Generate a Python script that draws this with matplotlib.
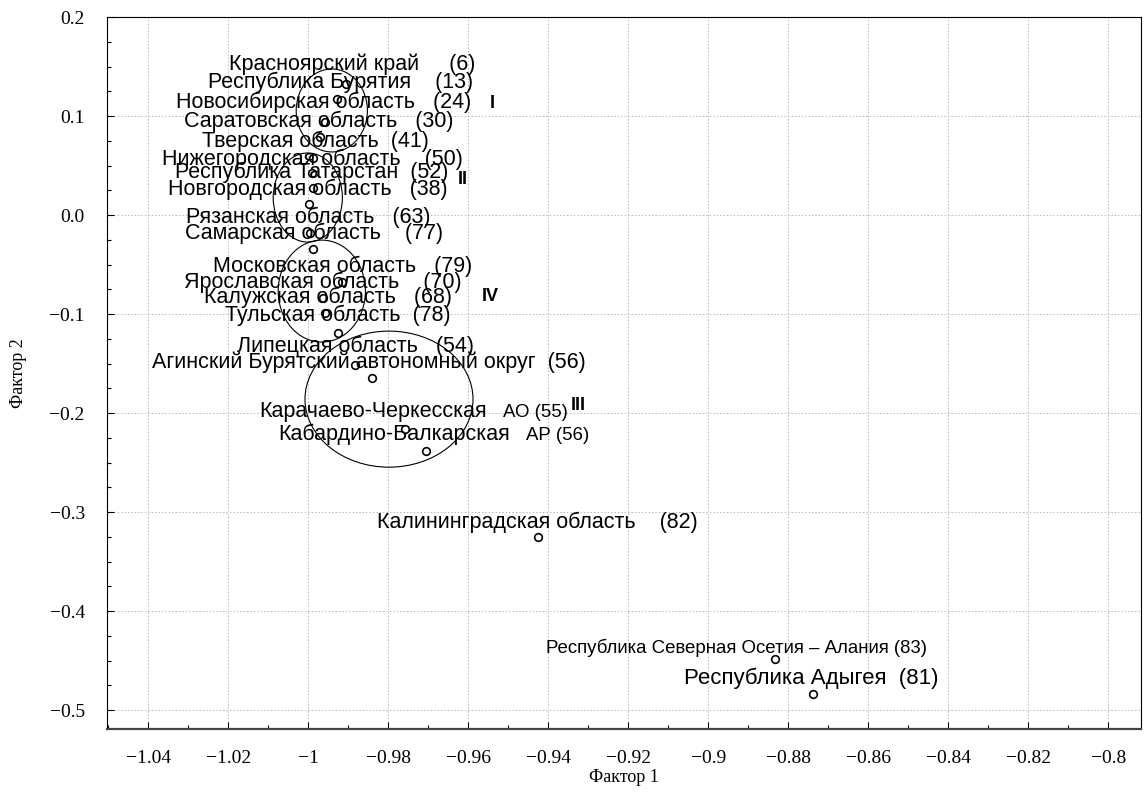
import matplotlib
matplotlib.use('Agg')
import matplotlib.pyplot as plt
from matplotlib.patches import Ellipse
from matplotlib.ticker import FixedLocator, MultipleLocator

# Data: regions on the plane of the first two factors
names = [
    'Красноярский край     (6)',
    'Республика Бурятия    (13)',
    'Новосибирская область   (24)',
    'Саратовская область   (30)',
    'Тверская область  (41)',
    'Нижегородская область    (50)',
    'Республика Татарстан  (52)',
    'Новгородская область   (38)',
    'Рязанская область   (63)',
    'Самарская область    (77)',
    'Московская область   (79)',
    'Ярославская область    (70)',
    'Калужская область   (68)',
    'Тульская область  (78)',
    'Липецкая область   (54)',
    'Агинский Бурятский автономный округ  (56)',
    'Карачаево-Черкесская',
    'Кабардино-Балкарская',
    'Калининградская область    (82)',
    'Республика Северная Осетия – Алания (83)',
    'Республика Адыгея  (81)',
]
factor1 = [-0.9905, -0.9928, -0.9958, -0.9970, -0.9988, -0.9990, -0.9988,
           -0.9998, -0.9995, -0.9988, -0.9915, -0.9963, -0.9958, -0.9925,
           -0.9883, -0.9840, -0.9758, -0.9705, -0.9425, -0.8833, -0.8738]
factor2 = [0.1323, 0.1172, 0.0939, 0.0788, 0.0576, 0.0424, 0.0273,
           0.0111, -0.0182, -0.0343, -0.0677, -0.0838, -0.0990, -0.1192,
           -0.1515, -0.1646, -0.2162, -0.2384, -0.3253, -0.4485, -0.4838]
# second part of two labels, printed smaller
suffix = {16: 'АО (55)', 17: 'АР (56)'}

# Clusters (ellipses) and their roman labels
cluster_names = ['I', 'II', 'IV', 'III']
cluster_x = [-0.9941, -1.0001, -0.9966, -0.9798]
cluster_y = [0.1056, 0.0177, -0.0768, -0.1859]
cluster_w = [0.0178, 0.0173, 0.0218, 0.0420]
cluster_h = [0.0838, 0.0900, 0.1030, 0.1374]
cluster_lx = [-0.9540, -0.9613, -0.9545, -0.9325]
cluster_ly = [0.1131, 0.0364, -0.0818, -0.1919]

xticks = [-1.04, -1.02, -1.0, -0.98, -0.96, -0.94, -0.92, -0.9,
          -0.88, -0.86, -0.84, -0.82, -0.8]
yticks = [0.2, 0.1, 0.0, -0.1, -0.2, -0.3, -0.4, -0.5]

# label placement (pixels relative to the point: text centre x, baseline y)
label_dx = [6, 4, -1, -1, 2, 0, -1, -1, -2, 1, 0, 0, 3, 0, 0, -3, 82, 84, -1, -38, -2]
label_dy = [14, 11, 14, 10, 11, 8, 10, 9, 10, 10, 10, 10, 10, 12, 13, 10, 12, 11, 9, 6, 10]
label_size = [15.5] * 19 + [13.4, 16]

SANS = 'Liberation Sans'
SERIF = 'Liberation Serif'


def fmt_tick(v, nd=None):
    if nd is None:
        s = ('%g' % v)
    else:
        s = ('%.' + str(nd) + 'f') % v
    return s.replace('-', '\u2212')


def main():
    fig = plt.figure(figsize=(11.44, 8.01), dpi=100)
    ax = fig.add_axes([107 / 1144, 72 / 801, 1034 / 1144, 712 / 801])

    # ellipses around clusters
    for cx, cy, w, h in zip(cluster_x, cluster_y, cluster_w, cluster_h):
        ax.add_patch(Ellipse((cx, cy), w, h, fill=False, ec='black', lw=0.8, zorder=3))
    for name, lx, ly in zip(cluster_names, cluster_lx, cluster_ly):
        ax.text(lx, ly, name, family=SANS, fontweight='bold', fontsize=13,
                ha='center', va='center', zorder=5)

    # points
    ax.plot(factor1, factor2, 'o', ms=5.5, mfc='white', mec='black', mew=1.2,
            ls='none', zorder=4)

    # labels
    k = 72 / 100  # px -> pt
    for i, (name, x, y) in enumerate(zip(names, factor1, factor2)):
        if i in suffix:
            ax.annotate(name, (x, y), xytext=(label_dx[i] * k, label_dy[i] * k),
                        textcoords='offset points', ha='right', va='baseline',
                        family=SANS, fontsize=15.5, zorder=5)
            ax.annotate(suffix[i], (x, y),
                        xytext=((label_dx[i] + 16) * k, label_dy[i] * k),
                        textcoords='offset points', ha='left', va='baseline',
                        family=SANS, fontsize=13.4, zorder=5)
        else:
            ax.annotate(name, (x, y), xytext=(label_dx[i] * k, label_dy[i] * k),
                        textcoords='offset points', ha='center', va='baseline',
                        family=SANS, fontsize=label_size[i], zorder=5)

    # axes
    ax.set_xlim(-1.0503, -0.7918)
    ax.set_ylim(-0.519, 0.2)
    ax.xaxis.set_major_locator(FixedLocator(xticks))
    ax.yaxis.set_major_locator(FixedLocator(yticks))
    ax.set_xticklabels([fmt_tick(v) for v in xticks])
    ax.set_yticklabels([fmt_tick(v, 1) for v in yticks])
    ax.xaxis.set_minor_locator(MultipleLocator(0.01))
    ax.yaxis.set_minor_locator(MultipleLocator(0.025))
    ax.tick_params(which='both', direction='in', top=False, right=False)
    ax.tick_params(which='major', length=5, width=0.8)
    ax.tick_params(which='minor', length=3, width=0.8)
    ax.tick_params(axis='x', which='major', pad=15)
    ax.tick_params(axis='y', which='major', pad=16)
    for lab in ax.get_xticklabels() + ax.get_yticklabels():
        lab.set_family(SERIF)
        lab.set_fontsize(14)

    ax.grid(True, which='major', color='#b8b8b8', ls=(0, (1.5, 2)), lw=0.7)
    ax.set_axisbelow(True)
    for side in ['left', 'top', 'right']:
        ax.spines[side].set_linewidth(0.8)
    ax.spines['bottom'].set_linewidth(1.6)
    ax.spines['bottom'].set_color('#444444')

    ax.set_xlabel('Фактор 1', family=SERIF, fontsize=13)
    ax.set_ylabel('Фактор 2', family=SERIF, fontsize=13)
    ax.xaxis.set_label_coords(0.5, -0.056)
    ax.yaxis.set_label_coords(-0.077, 0.5)

    fig.savefig('out.png', dpi=100)


if __name__ == '__main__':
    main()
